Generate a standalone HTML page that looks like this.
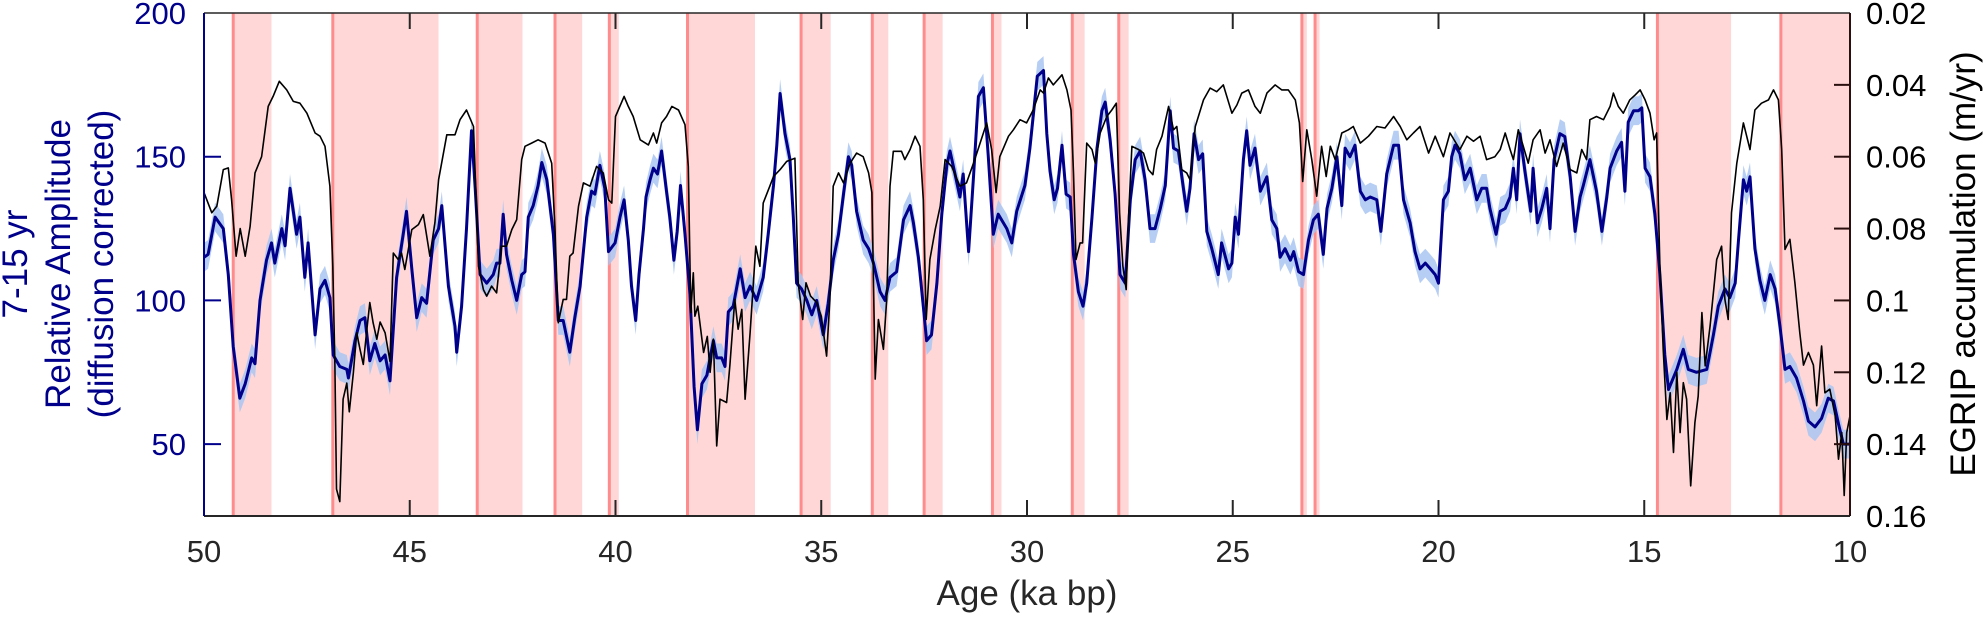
<!DOCTYPE html>
<html><head><meta charset="utf-8"><style>
body{margin:0;background:#fff}
svg text{font-family:"Liberation Sans",Arial,sans-serif}
</style></head><body>
<svg id="chart" width="1987" height="615" viewBox="0 0 1987 615" xmlns="http://www.w3.org/2000/svg">
<g id="bands"></g>
<g id="series"></g>
<g id="axes"></g>
</svg>
<script>
const bandStart=[49.29,46.87,43.36,41.47,40.15,38.25,35.49,33.76,32.5,30.84,28.9,27.77,23.32,23.0,14.68,11.68];
const bandEnd=[48.36,44.30,42.26,40.81,39.92,36.61,34.77,33.37,32.05,30.62,28.6,27.53,23.2,22.89,12.89,10.0];
const blueAge=[50.0,49.9,49.73,49.53,49.41,49.29,49.13,49.0,48.84,48.76,48.64,48.48,48.36,48.28,48.11,48.03,47.91,47.75,47.67,47.55,47.47,47.3,47.18,47.06,46.94,46.86,46.7,46.53,46.49,46.33,46.21,46.09,45.97,45.85,45.72,45.6,45.48,45.32,45.16,45.08,44.95,44.83,44.71,44.59,44.43,44.3,44.22,44.06,43.9,43.86,43.74,43.62,43.5,43.41,43.29,43.13,42.97,42.89,42.81,42.73,42.65,42.52,42.4,42.28,42.2,42.12,42.0,41.88,41.79,41.67,41.51,41.39,41.27,41.11,40.99,40.86,40.7,40.58,40.5,40.38,40.26,40.17,40.01,
39.89,39.79,39.69,39.61,39.51,39.43,39.32,39.26,39.16,39.08,38.98,38.88,38.76,38.68,38.58,38.5,38.42,38.31,38.19,38.09,38.01,37.9,37.78,37.7,37.62,37.54,37.42,37.34,37.26,37.14,36.97,36.85,36.73,36.57,36.41,36.29,36.16,36.08,36.0,35.88,35.76,35.68,35.6,35.48,35.35,35.23,35.11,34.95,34.83,34.71,34.58,34.46,34.34,34.26,34.14,33.98,33.85,33.73,33.57,33.45,33.33,33.17,33.0,32.84,32.76,32.64,32.52,32.44,32.32,32.19,32.07,31.95,31.87,31.75,31.63,31.55,31.42,31.3,31.18,31.06,30.94,30.82,30.7,30.49,30.37,30.25,30.05,29.93,29.75,
29.6,29.52,29.44,29.34,29.26,29.15,29.05,28.95,28.87,28.75,28.64,28.55,28.42,28.3,28.18,28.1,27.98,27.86,27.74,27.61,27.49,27.37,27.25,27.13,27.01,26.89,26.76,26.64,26.52,26.44,26.32,26.2,26.12,26.04,25.94,25.83,25.73,25.63,25.51,25.35,25.27,25.1,25.02,24.94,24.86,24.74,24.66,24.58,24.46,24.33,24.17,24.05,23.93,23.85,23.73,23.6,23.52,23.4,23.28,23.16,23.04,22.92,22.8,22.71,22.59,22.47,22.35,22.27,22.15,22.03,21.9,21.78,21.66,21.5,21.4,21.26,21.09,20.97,20.85,20.69,20.57,20.45,20.32,20.2,20.08,20.0,19.88,19.76,19.68,
19.6,19.48,19.36,19.23,19.07,18.95,18.83,18.75,18.6,18.5,18.38,18.26,18.18,18.1,18.02,17.9,17.76,17.7,17.6,17.49,17.37,17.29,17.19,17.05,16.93,16.8,16.68,16.56,16.48,16.32,16.16,16.03,15.91,15.83,15.67,15.55,15.47,15.39,15.26,15.14,15.06,14.98,14.86,14.74,14.62,14.5,14.41,14.21,14.05,13.93,13.73,13.48,13.32,13.2,13.04,12.92,12.79,12.71,12.59,12.51,12.43,12.31,12.19,12.07,11.94,11.82,11.7,11.58,11.46,11.3,11.13,11.01,10.85,10.69,10.53,10.4,10.28,10.16,10.0];
const blueVal=[115,116,129,125,109,84,66,71,80,78,100,114,120,113,125,119,139,123,129,108,120,88,104,107,101,81,77,76,73,86,93,94,79,85,79,81,72,108,123,131,111,94,101,99,121,125,133,105,91,82,98,125,159,139,109,106,109,113,113,130,116,107,100,109,110,129,133,140,148,142,123,93,93,82,94,105,129,138,137,147,139,117,120,
129,135,121,105,93,109,125,136,142,146,144,152,138,129,114,124,140,123,102,70,55,71,74,80,86,80,80,77,96,98,111,101,105,100,108,123,140,154,172,158,149,129,106,104,100,95,100,88,99,114,123,137,150,147,131,121,118,113,103,100,108,110,128,133,127,115,98,86,88,106,130,147,152,144,136,144,117,143,171,174,150,123,130,125,120,131,140,153,178,
180,158,145,135,139,154,137,136,116,103,98,106,129,153,166,169,156,137,109,106,135,149,152,142,125,125,132,140,166,153,152,139,131,139,158,149,151,124,118,109,120,111,113,129,123,149,159,147,153,138,143,128,125,115,118,114,117,110,109,121,128,130,116,132,139,150,133,153,150,154,138,135,136,135,124,144,154,154,135,127,117,111,113,111,109,106,135,138,150,
154,151,142,146,135,139,139,132,123,131,132,136,146,135,158,145,131,146,127,132,139,125,149,158,157,143,124,136,140,149,138,124,136,146,152,155,138,162,166,166,167,146,143,130,109,81,69,76,83,76,75,76,88,98,104,101,106,121,142,138,143,118,107,100,109,104,91,76,77,73,65,58,56,59,66,65,57,50,50];
const blackAge=[50.0,49.81,49.69,49.53,49.41,49.33,49.22,49.12,49.0,48.88,48.76,48.6,48.44,48.32,48.17,47.99,47.83,47.67,47.5,47.3,47.18,47.06,46.94,46.87,46.82,46.78,46.7,46.62,46.53,46.47,46.37,46.29,46.21,46.13,46.05,45.97,45.89,45.8,45.72,45.6,45.48,45.4,45.28,45.2,45.12,44.95,44.79,44.67,44.51,44.39,44.3,44.1,43.9,43.78,43.62,43.45,43.33,43.21,43.13,43.01,42.89,42.77,42.65,42.52,42.4,42.28,42.2,42.04,41.88,41.71,41.55,41.47,41.39,41.27,41.19,41.11,41.03,40.9,40.78,40.62,40.46,40.3,40.17,40.09,40.0,
39.79,39.69,39.57,39.4,39.2,39.08,39.0,38.88,38.76,38.63,38.47,38.31,38.23,38.17,38.11,38.07,38.0,37.86,37.77,37.7,37.62,37.54,37.46,37.3,37.22,37.1,37.02,36.93,36.85,36.73,36.59,36.49,36.41,36.25,36.16,36.0,35.84,35.64,35.56,35.45,35.37,35.26,35.11,35.0,34.87,34.79,34.71,34.58,34.46,34.3,34.14,33.98,33.85,33.77,33.69,33.61,33.49,33.41,33.33,33.25,33.05,32.97,32.84,32.72,32.6,32.52,32.45,32.36,32.23,32.11,31.99,31.83,31.63,31.47,31.3,31.14,30.98,30.86,30.75,30.66,30.45,30.33,30.17,30.01,29.85,29.68,
29.6,29.48,29.36,29.15,29.03,28.93,28.87,28.81,28.71,28.65,28.55,28.42,28.34,28.22,28.06,27.94,27.83,27.75,27.67,27.59,27.53,27.45,27.29,27.17,27.05,26.94,26.85,26.72,26.56,26.44,26.36,26.24,26.12,26.04,25.91,25.71,25.55,25.39,25.23,25.02,24.9,24.78,24.62,24.46,24.33,24.17,23.97,23.81,23.65,23.48,23.38,23.3,23.2,23.08,22.96,22.84,22.73,22.63,22.51,22.35,22.19,22.07,21.9,21.7,21.5,21.3,21.09,20.93,20.77,20.61,20.45,20.24,20.08,19.88,19.72,
19.48,19.31,19.15,18.99,18.83,18.63,18.5,18.38,18.26,18.18,18.06,17.94,17.82,17.7,17.53,17.41,17.29,17.13,16.97,16.8,16.64,16.52,16.4,16.32,16.16,15.99,15.83,15.75,15.63,15.51,15.35,15.22,15.1,14.98,14.86,14.76,14.7,14.62,14.54,14.45,14.37,14.29,14.21,14.13,14.05,13.97,13.87,13.77,13.69,13.6,13.52,13.4,13.24,13.12,13.04,12.96,12.88,12.75,12.59,12.43,12.31,12.15,11.98,11.86,11.74,11.66,11.58,11.46,11.34,11.22,11.13,11.01,10.89,10.81,10.69,10.61,10.49,10.36,10.28,10.2,10.14,10.08,10.0];
const blackVal=[.070,.0756,.0738,.0636,.0631,.072,.0877,.080,.0877,.0794,.0645,.060,.046,.0432,.039,.0414,.0446,.0451,.0479,.0534,.0543,.0571,.0682,.0905,.118,.1525,.156,.1275,.123,.131,.120,.109,.1136,.1178,.109,.1006,.1062,.1108,.106,.109,.117,.0868,.0886,.0868,.0914,.0803,.0789,.0761,.0877,.0784,.0664,.0539,.0539,.0497,.047,.0516,.0905,.097,.0988,.096,.0979,.0849,.0849,.0803,.0775,.0608,.0571,.0562,.0553,.0562,.0618,.0803,.1062,.0997,.0997,.0877,.0868,.0738,.0673,.0682,.0627,.0645,.072,.0729,.0488,
.0432,.046,.0488,.0553,.0567,.0534,.0562,.0506,.0488,.046,.047,.0511,.0627,.1034,.0923,.1044,.1016,.1145,.110,.120,.1108,.1405,.1275,.1284,.118,.0997,.108,.1025,.1275,.109,.0849,.0905,.0729,.0682,.0655,.0636,.0613,.0604,.0951,.1053,.0951,.0988,.1006,.1044,.1155,.0997,.0682,.0645,.0673,.0618,.059,.060,.0645,.070,.1219,.1053,.1136,.0997,.0682,.0585,.0585,.0608,.058,.0543,.0571,.072,.1053,.0886,.0803,.0738,.0608,.0627,.0682,.0673,.0618,.0562,.0506,.058,.070,.060,.0543,.0525,.0497,.0506,.047,.0414,
.0423,.0381,.040,.0372,.0414,.047,.0645,.0886,.084,.084,.0562,.058,.0618,.0534,.0488,.047,.0451,.0756,.0905,.097,.0766,.0571,.058,.059,.0636,.065,.058,.0543,.046,.0525,.0516,.0636,.0645,.0664,.0516,.0442,.0409,.0419,.040,.0479,.0456,.0423,.0414,.046,.0479,.0423,.040,.0414,.0414,.0442,.0506,.0669,.0525,.0608,.071,.0571,.0655,.0571,.0608,.0534,.0525,.0516,.0562,.0543,.0516,.052,.0488,.0516,.0553,.0534,.0516,.059,.0543,.060,.0534,
.058,.0543,.0557,.0543,.0608,.060,.058,.0534,.058,.0608,.0525,.0571,.0618,.0553,.0525,.059,.0553,.0627,.0562,.0636,.0645,.058,.0608,.0497,.0488,.0497,.046,.0423,.046,.0479,.0442,.0428,.0414,.0442,.0479,.0553,.0534,.0905,.1136,.1331,.1257,.1423,.120,.1368,.1229,.1275,.1516,.134,.1266,.1034,.1182,.1071,.0886,.0849,.0997,.1053,.0756,.0618,.0506,.058,.047,.0451,.0442,.0414,.0442,.058,.0858,.083,.0951,.109,.118,.1145,.118,.1293,.1127,.1257,.1247,.1321,.1442,.1368,.1543,.1368,.1321];
const xTicks=[50,45,40,35,30,25,20,15,10];
const yLeftTicks=[50,100,150,200];
const yRightTicks=[0.02,0.04,0.06,0.08,0.1,0.12,0.14,0.16];

(function(){
const L=204,R=1850,T=13,B=516;
const X=a=>L+(50-a)/40*(R-L);
const YL=v=>B-(v-25)/175*(B-T);
const YR=r=>T+(r-0.02)/0.14*(B-T);
const NS='http://www.w3.org/2000/svg';
function mk(tag,attrs,parent){const e=document.createElementNS(NS,tag);for(const k in attrs)e.setAttribute(k,attrs[k]);parent.appendChild(e);return e;}
const gB=document.getElementById('bands'),gS=document.getElementById('series'),gA=document.getElementById('axes');
for(let i=0;i<bandStart.length;i++){
  const x1=X(bandStart[i]),x2=X(bandEnd[i]);
  const r=mk('rect',{x:x1,y:T,width:x2-x1,height:B-T,fill:'#ffd7d7'},gB);
  
  
  const l=mk('line',{x1:x1,x2:x1,y1:T,y2:B,stroke:'#ff8c8c','stroke-width':3},gB);
  
  
}
const nB=Math.min(blueAge.length,blueVal.length);
const nK=Math.min(blackAge.length,blackVal.length);
let up=[],dn=[],bp=[],kp=[];
for(let i=0;i<nB;i++){
  up.push(X(blueAge[i]).toFixed(1)+','+YL(blueVal[i]+5).toFixed(1));
  dn.push(X(blueAge[i]).toFixed(1)+','+YL(blueVal[i]-5).toFixed(1));
  bp.push(X(blueAge[i]).toFixed(1)+','+YL(blueVal[i]).toFixed(1));
}
for(let i=0;i<nK;i++){kp.push(X(blackAge[i]).toFixed(1)+','+YR(blackVal[i]).toFixed(1));}
const rib=mk('polygon',{points:up.concat(dn.reverse()).join(' '),fill:'#a9c6f2',opacity:0.85},gS);


const bl=mk('polyline',{points:bp.join(' '),fill:'none',stroke:'#00008b','stroke-width':3,'stroke-linejoin':'round'},gS);


const kl=mk('polyline',{points:kp.join(' '),fill:'none',stroke:'#000','stroke-width':1.6,'stroke-linejoin':'round'},gS);


const topAx=mk('line',{x1:L,x2:R,y1:T,y2:T,stroke:'#262626','stroke-width':1.5},gA);


const botAx=mk('line',{x1:L,x2:R,y1:B,y2:B,stroke:'#262626','stroke-width':2},gA);


const leftAx=mk('line',{x1:L,x2:L,y1:T,y2:B,stroke:'#00008b','stroke-width':2},gA);


const rightAx=mk('line',{x1:R,x2:R,y1:T,y2:B,stroke:'#2a0f0f','stroke-width':2},gA);


xTicks.forEach(t=>{
  const x=X(t);
  if(t!==50&&t!==10){mk('line',{x1:x,x2:x,y1:B,y2:B-16,stroke:'#262626','stroke-width':2},gA);mk('line',{x1:x,x2:x,y1:T,y2:T+16,stroke:'#262626','stroke-width':2},gA);}
  const tx=mk('text',{x:x,y:562,'font-size':31,fill:'#262626','text-anchor':'middle'},gA);tx.textContent=t;
  
  
});
yLeftTicks.forEach(t=>{
  const y=YL(t);
  if(t!==200)mk('line',{x1:L,x2:L+17,y1:y,y2:y,stroke:'#00008b','stroke-width':2},gA);
  const tx=mk('text',{x:186,y:Math.max(y,13)+11,'font-size':31,fill:'#00008b','text-anchor':'end'},gA);tx.textContent=t;
  
  
});
yRightTicks.forEach(t=>{
  const y=YR(t);
  if(t>0.021&&t<0.159)mk('line',{x1:R,x2:R-16,y1:y,y2:y,stroke:'#2a0f0f','stroke-width':2},gA);
  const tx=mk('text',{x:1866,y:y+11,'font-size':31,fill:'#000'},gA);tx.textContent=String(t);
  
  
});
const xt=mk('text',{x:(L+R)/2,y:605,'font-size':35,fill:'#262626','text-anchor':'middle'},gA);xt.textContent='Age (ka bp)';


const lt=mk('text',{transform:'translate(0,264) rotate(-90)','font-size':35,fill:'#00008b','text-anchor':'middle'},gA);


[['7-15 yr',27],['Relative Amplitude',70],['(diffusion corrected)',113]].forEach(([s,yy])=>{const ts=mk('tspan',{x:0,y:yy},lt);ts.textContent=s;});
const rt=mk('text',{transform:'translate(1975,264) rotate(-90)','font-size':35,fill:'#000','text-anchor':'middle'},gA);rt.textContent='EGRIP accumulation (m/yr)';


})();
</script>
</body></html>
